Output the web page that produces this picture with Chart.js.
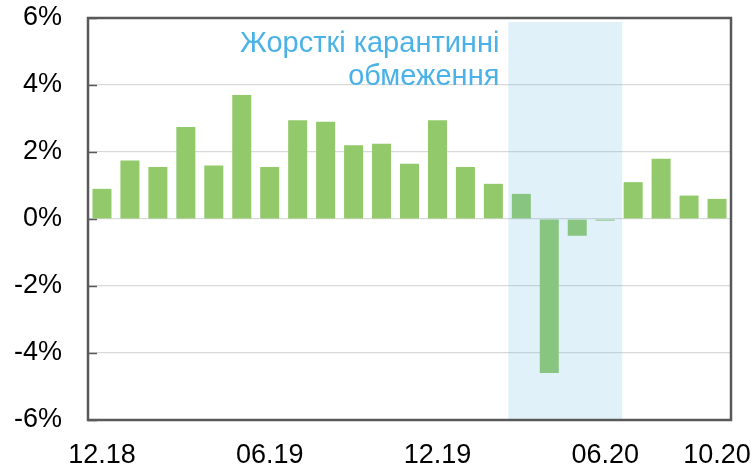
<!DOCTYPE html>
<html>
<head>
<meta charset="utf-8">
<script src="https://cdn.jsdelivr.net/npm/chart.js@4"></script>
<style>
  html, body { margin: 0; padding: 0; background: #fff; }
  #wrap { width: 756px; height: 470px; }
</style>
</head>
<body>
<div id="wrap"><canvas id="myChart" width="756" height="470"></canvas></div>
<script>
(() => {
    "use strict";

    const months = ["12.18", "01.19", "02.19", "03.19", "04.19", "05.19", "06.19", "07.19", "08.19",
        "09.19", "10.19", "11.19", "12.19", "01.20", "02.20", "03.20", "04.20", "05.20", "06.20",
        "07.20", "08.20", "09.20", "10.20"];
    const growth = [0.9, 1.75, 1.55, 2.75, 1.6, 3.7, 1.55, 2.95, 2.9, 2.2, 2.25, 1.65, 2.95,
        1.55, 1.05, 0.75, -4.6, -0.5, -0.05, 1.1, 1.8, 0.7, 0.6];
    const shownLabels = ["12.18", "06.19", "12.19", "06.20", "10.20"];
    const lockdown = ["03.20", "06.20"];
    const note = ["Жорсткі карантинні", "обмеження"];

    const FONT = "'Liberation Sans', Arial, sans-serif";

    const frame = {
        id: "frame",
        beforeDatasetsDraw(chart) {
            const { ctx, chartArea: a, scales: { y } } = chart;
            ctx.save();
            ctx.strokeStyle = "#595959";
            ctx.lineWidth = 1.5;
            y.ticks.forEach((t) => {
                const py = Math.round(y.getPixelForValue(t.value)) + 0.5;
                ctx.beginPath();
                ctx.moveTo(a.left, py);
                ctx.lineTo(a.left + 9, py);
                ctx.stroke();
            });
            ctx.restore();
        },
        afterDatasetsDraw(chart) {
            const { ctx, chartArea: a, scales: { x } } = chart;
            const i0 = months.indexOf(lockdown[0]);
            const i1 = months.indexOf(lockdown[1]);
            const x0 = x.getPixelForValue(i0 - 0.5) + 1;
            const x1 = x.getPixelForValue(i1 + 0.5) + 3;
            ctx.save();
            ctx.fillStyle = "rgba(94,182,229,0.19)";
            ctx.fillRect(x0, a.top + 4, x1 - x0, a.bottom - a.top - 4);

            ctx.strokeStyle = "#595959";
            ctx.lineWidth = 2.5;
            ctx.strokeRect(a.left, a.top, a.right - a.left, a.bottom - a.top);

            ctx.fillStyle = "#4ab2e6";
            ctx.font = "29px " + FONT;
            ctx.textAlign = "right";
            ctx.textBaseline = "middle";
            ctx.fillText(note[0], x0 - 9, 44);
            ctx.fillText(note[1], x0 - 9, 77);
            ctx.restore();
        },
    };

    const canvas = document.getElementById("myChart");
    // @ts-ignore
    new Chart(canvas, {
        type: "bar",
        data: {
            labels: months,
            datasets: [{
                data: growth,
                backgroundColor: "#92c96a",
                barPercentage: 0.68,
                categoryPercentage: 1,
            }],
        },
        plugins: [frame],
        options: {
            responsive: false,
            animation: false,
            layout: { padding: { top: 18, right: 25, left: 0, bottom: 0 } },
            plugins: {
                legend: { display: false },
                tooltip: { enabled: false },
            },
            scales: {
                x: {
                    grid: { display: false, drawTicks: false },
                    border: { display: false },
                    afterFit: (s) => {
                        s.height = 50;
                        s.paddingLeft = 0;
                        s.paddingRight = 0;
                    },
                    ticks: {
                        autoSkip: false,
                        maxRotation: 0,
                        padding: 19,
                        color: "#000",
                        font: { family: FONT, size: 27 },
                        callback(v) {
                            const l = months[v];
                            return shownLabels.includes(l) ? l : "";
                        },
                    },
                },
                y: {
                    min: -6,
                    max: 6,
                    grid: { color: "#d9d9d9", lineWidth: 1.2, drawTicks: false },
                    border: { display: false },
                    afterFit: (s) => {
                        s.width = 88;
                        s.paddingTop = 0;
                        s.paddingBottom = 0;
                    },
                    ticks: {
                        stepSize: 2,
                        padding: 26,
                        color: "#000",
                        font: { family: FONT, size: 27 },
                        callback: (v) => v + "%",
                    },
                },
            },
        },
    });
})();
</script>
</body>
</html>
